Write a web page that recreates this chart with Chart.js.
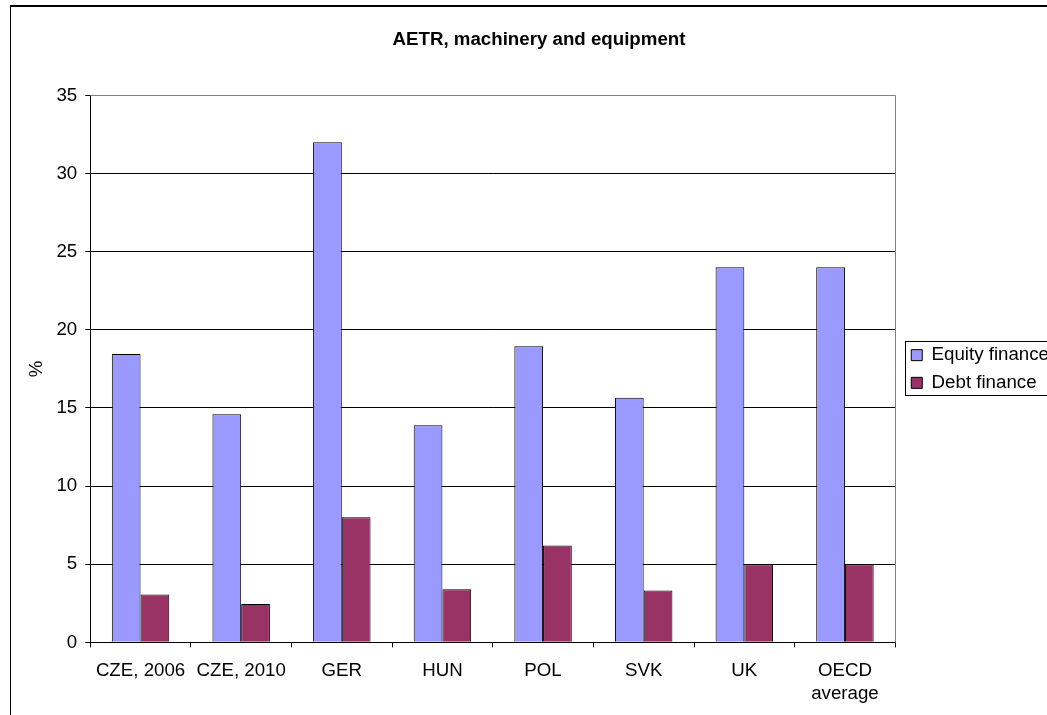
<!DOCTYPE html>
<html>
<head>
<meta charset="utf-8">
<script src="https://cdn.jsdelivr.net/npm/chart.js@4.4.1/dist/chart.umd.min.js"></script>
<style>
  html, body { margin: 0; padding: 0; background: #fff; overflow: hidden; width: 1047px; height: 715px; }
  #frame { position: absolute; left: 10px; top: 5px; width: 1100px; height: 800px; border-left: 1px solid #000; border-top: 2px solid #000; }
  #wrap { position: absolute; left: 11px; top: 7px; width: 1043px; height: 710px; }
</style>
</head>
<body>
<div id="frame"></div>
<div id="wrap"><canvas id="c"></canvas></div>
<script>
const categories = ['CZE, 2006', 'CZE, 2010', 'GER', 'HUN', 'POL', 'SVK', 'UK', ['OECD', 'average']];
const equityFinance = [18.45, 14.6, 32.0, 13.9, 18.95, 15.65, 24.0, 24.0];
const debtFinance = [3.07, 2.45, 8.0, 3.4, 6.2, 3.32, 5.0, 5.0];
const seriesNames = ['Equity finance', 'Debt finance'];
const chartTitle = 'AETR, machinery and equipment';
const yAxisTitle = '%';

const FONT = 'Liberation Sans, Arial, sans-serif';
const FS = 18.7;

const legendShift = {
  id: 'legendShift',
  afterLayout(chart) {
    const lg = chart.legend;
    lg.left += 7; lg.right += 7;
    lg.top += 2; lg.bottom += 2;
  }
};

const framePlugin = {
  id: 'framePlugin',
  afterDraw(chart) {
    const ctx = chart.ctx;
    const a = chart.chartArea;
    ctx.save();
    ctx.strokeStyle = '#808080';
    ctx.lineWidth = 1;
    ctx.beginPath();
    ctx.moveTo(a.left, Math.round(a.top) + 0.5);
    ctx.lineTo(Math.round(a.right) + 0.5, Math.round(a.top) + 0.5);
    ctx.lineTo(Math.round(a.right) + 0.5, a.bottom);
    ctx.stroke();
    const boxes = chart.legend.legendHitBoxes;
    if (boxes && boxes.length) {
      let l = Infinity, t = Infinity, r = -Infinity, b = -Infinity;
      boxes.forEach(h => { l = Math.min(l, h.left); t = Math.min(t, h.top); r = Math.max(r, h.left + h.width); b = Math.max(b, h.top + h.height); });
      ctx.strokeStyle = '#000';
      ctx.strokeRect(Math.round(l - 6) + 0.5, Math.round(t - 5) + 0.5, Math.round(r - l + 12), Math.round(b - t + 8));
    }
    ctx.restore();
  }
};

new Chart(document.getElementById('c'), {
  type: 'bar',
  data: {
    labels: categories,
    datasets: [
      { label: seriesNames[0], data: equityFinance, backgroundColor: '#9999FF', borderColor: '#000', borderWidth: 1, categoryPercentage: 0.571, barPercentage: 1.0 },
      { label: seriesNames[1], data: debtFinance, backgroundColor: '#993366', borderColor: '#000', borderWidth: 1, categoryPercentage: 0.571, barPercentage: 1.0 }
    ]
  },
  options: {
    responsive: true,
    maintainAspectRatio: false,
    animation: false,
    layout: { padding: { left: 15, right: 2, top: 10, bottom: 0 } },
    plugins: {
      title: {
        display: true,
        text: chartTitle,
        color: '#000',
        font: { family: FONT, size: FS, weight: 'bold' },
        padding: { top: 12, bottom: 44 }
      },
      legend: {
        position: 'right',
        labels: {
          color: '#000',
          font: { family: FONT, size: FS },
          boxWidth: 11,
          boxHeight: 11,
          padding: 9
        }
      },
      tooltip: { enabled: false }
    },
    scales: {
      x: {
        offset: true,
        grid: { offset: true, drawOnChartArea: false, tickLength: 5, color: '#000', tickColor: '#000' },
        border: { color: '#000', width: 1 },
        ticks: { color: '#000', font: { family: FONT, size: FS, lineHeight: 1.22 }, padding: 12, maxRotation: 0, autoSkip: false }
      },
      y: {
        min: 0,
        max: 35,
        ticks: { stepSize: 5, color: '#000', font: { family: FONT, size: FS }, padding: 8 },
        grid: { color: (c) => (c.tick && c.tick.value === 35 ? '#808080' : '#000'), tickColor: '#000', tickLength: 5, lineWidth: 1 },
        border: { color: '#000', width: 1 },
        title: { display: true, text: yAxisTitle, color: '#000', font: { family: FONT, size: FS }, padding: { top: 0, bottom: 0 } }
      }
    }
  },
  plugins: [legendShift, framePlugin]
});
</script>
</body>
</html>
